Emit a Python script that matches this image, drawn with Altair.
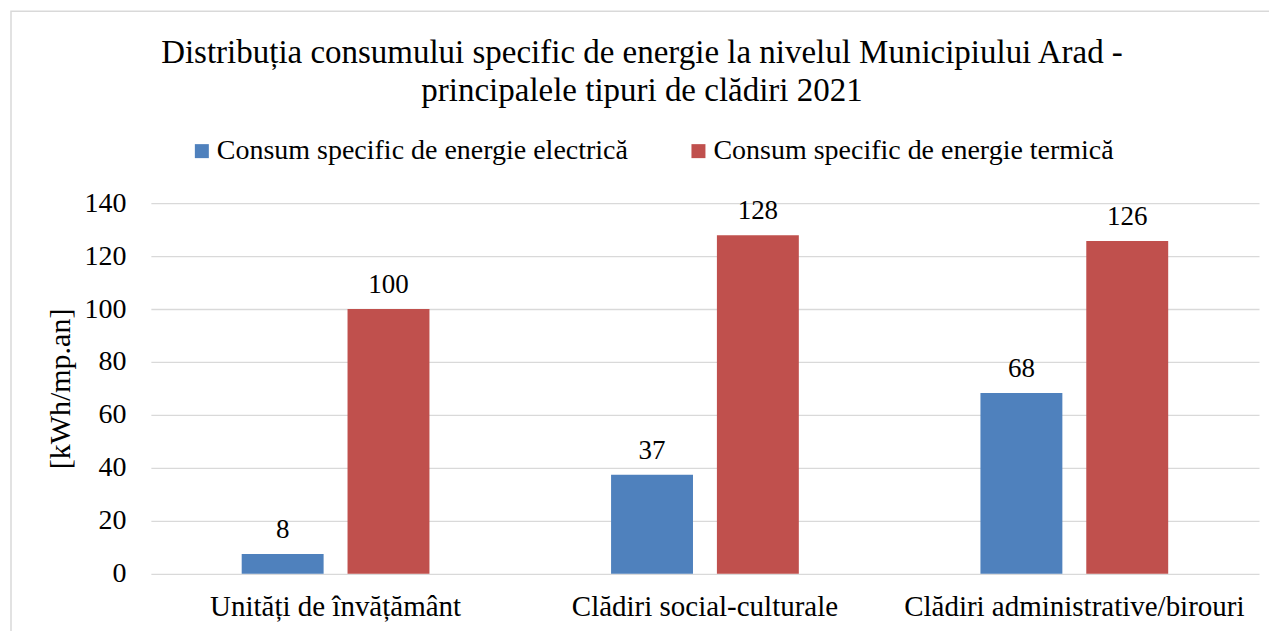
import altair as alt
import pandas as pd

categories = ["Unități de învățământ", "Clădiri social-culturale", "Clădiri administrative/birouri"]
series = ["Consum specific de energie electrică", "Consum specific de energie termică"]
electric = [7.5, 37.4, 68.3]
thermal = [100.0, 127.9, 125.7]
colors = ["#4F81BD", "#C0504D"]
y_ticks = [0, 20, 40, 60, 80, 100, 120, 140]
title_lines = ["Distribuția consumului specific de energie la nivelul Municipiului Arad -",
               "principalele tipuri de clădiri 2021"]

rows = []
for i, c in enumerate(categories):
    rows.append({"cat": c, "serie": series[0], "val": electric[i]})
    rows.append({"cat": c, "serie": series[1], "val": thermal[i]})
df = pd.DataFrame(rows)

FONT = "Liberation Serif"
W, H = 1109, 371

x = alt.X("cat:N", sort=categories,
          scale=alt.Scale(paddingInner=0, paddingOuter=0),
          axis=alt.Axis(title=None, labelAngle=0, labelFontSize=29, labelPadding=19,
                        labelFont=FONT,
                        ticks=False, domain=False, labelColor="#000000", labelLimit=0))
xo = alt.XOffset("serie:N", sort=series,
                 scale=alt.Scale(paddingInner=0.226, paddingOuter=0.858))
y = alt.Y("val:Q", scale=alt.Scale(domain=[0, 140], nice=False),
          axis=alt.Axis(values=y_ticks, title="[kWh/mp.an]", titleFontSize=30,
                        titleFont=FONT, labelFont=FONT,
                        titleFontWeight="normal", titlePadding=8, titleColor="#000000",
                        labelFontSize=28, labelPadding=25, labelColor="#000000",
                        ticks=False, domain=False, grid=True,
                        gridColor="#D9D9D9", gridWidth=1.3))
color = alt.Color("serie:N", sort=series,
                  scale=alt.Scale(domain=series, range=colors),
                  legend=alt.Legend(title=None, orient="none", legendX=37, legendY=-66,
                                    direction="horizontal", symbolType="square",
                                    symbolSize=196, symbolStrokeWidth=0,
                                    labelFont=FONT,
                                    labelFontSize=28, labelColor="#000000",
                                    columnPadding=56, labelOffset=1, labelLimit=0))

base = alt.Chart(df)
bars = base.mark_bar().encode(x=x, xOffset=xo, y=y, color=color)
labels = base.mark_text(fontSize=27, font=FONT, color="#000000", baseline="alphabetic", dy=-16).encode(
    x=x, xOffset=xo, y=y, text=alt.Text("val:Q", format=".0f"))

frame = alt.Chart(alt.Data(values=[{}])).mark_rect(
    fill="transparent", stroke="#D9D9D9", strokeWidth=1.5).encode(
    x=alt.value(-140), x2=alt.value(1400), y=alt.value(-192), y2=alt.value(900))

chart = alt.layer(frame, bars, labels).properties(
    width=W, height=H,
    padding={"left": 143, "top": 195, "right": 10, "bottom": 57},
    autosize=alt.AutoSizeParams(type="none"),
    title=alt.Title(title_lines, fontSize=33, font=FONT, fontWeight="normal",
                    anchor="middle", dx=-63, lineHeight=38, color="#000000", offset=-98),
).configure(font=FONT).configure_view(stroke=None)

chart.save("out.html", embed_options={"renderer": "svg", "actions": False})
